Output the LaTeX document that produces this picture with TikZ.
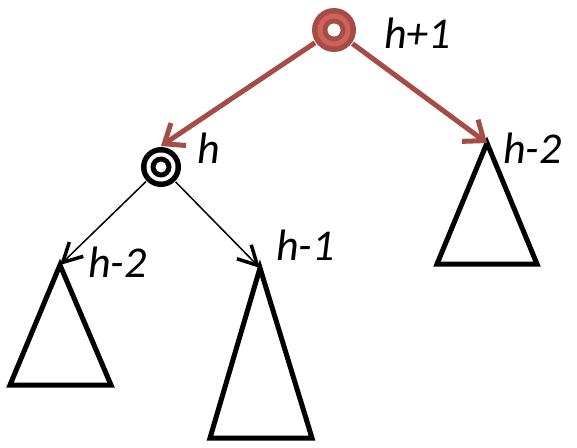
\documentclass[tikz,border=0pt]{standalone}
\usepackage{fontspec}
\setmainfont{Carlito}
\usetikzlibrary{arrows.meta}
\definecolor{rootred}{RGB}{166,76,71}
\definecolor{rootfill}{RGB}{206,98,92}
\begin{document}
\begin{tikzpicture}[x=1pt, y=-1pt,
    ring/.style={circle, inner sep=0pt, outer sep=1pt},
    subtree/.style={line width=5pt, line join=miter},
    redarrow/.style={rootred, line width=5pt, -{Straight Barb[length=17pt, width=27pt, line width=5pt]}},
    blackarrow/.style={line width=1.5pt, -{Straight Barb[length=19pt, width=20pt, line width=3.5pt]}},
    hlabel/.style={anchor=base west, inner sep=0pt, font=\fontsize{44}{52}\selectfont\itshape}]
    \useasboundingbox (0,0) rectangle (577,447);
    % nodes of the tree
    \node[ring, fill=rootred, minimum size=44pt] (root) at (334,30) {};
    \fill[rootfill] (root) circle (16.5pt);
    \fill[rootred] (root) circle (11.5pt);
    \fill[white] (root) circle (6.5pt);
    \node[ring, fill=black, minimum size=40pt] (lft) at (161,167) {};
    \fill[white] (lft) circle (14.5pt);
    \fill (lft) circle (10.5pt);
    \fill[white] (lft) circle (5.5pt);
    % subtrees
    \coordinate (rtop) at (487,143);
    \coordinate (lltop) at (60,265);
    \coordinate (lrtop) at (260,268);
    \draw[subtree] (rtop) -- (537,264) -- (437,264) -- cycle;
    \draw[subtree] (lltop) -- (111,385) -- (10,385) -- cycle;
    \draw[subtree] (lrtop) -- (312,438) -- (210,438) -- cycle;
    % edges
    \draw[redarrow] (root) -- (lft.north);
    \draw[redarrow] (root) -- (rtop);
    \draw[blackarrow] (lft) -- (lltop);
    \draw[blackarrow] (lft) -- (lrtop);
    % heights
    \node[hlabel] (hroot) at (384,48) {h+1};
    \node[hlabel] (hlft) at (197,163) {h};
    \node[hlabel] (hr) at (503,163) {h-2};
    \node[hlabel] (hll) at (88,277) {h-2};
    \node[hlabel] (hlr) at (276,260) {h-1};
\end{tikzpicture}
\end{document}
